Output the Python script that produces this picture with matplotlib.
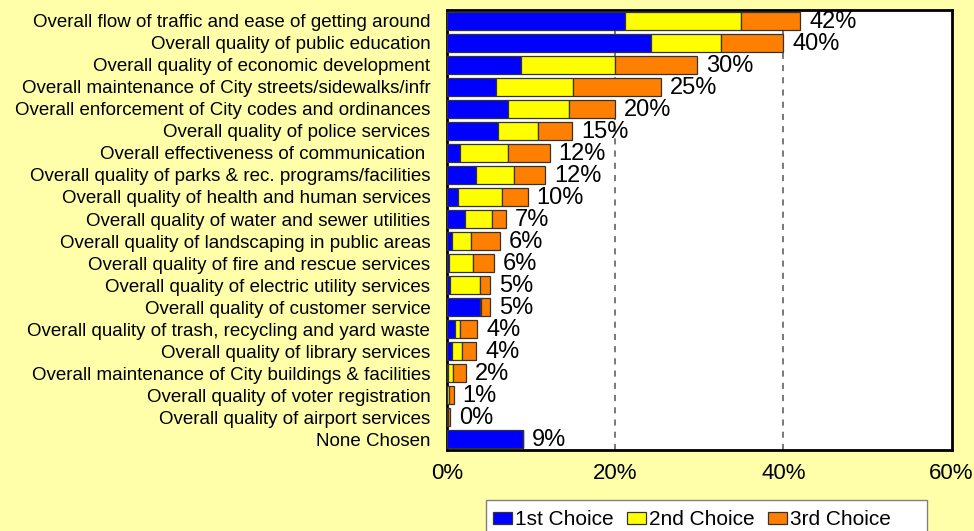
import matplotlib
matplotlib.use("Agg")
import matplotlib.pyplot as plt
from matplotlib.patches import Rectangle
import numpy as np

plt.rcParams['font.family'] = ['Liberation Sans', 'DejaVu Sans']

categories = [
    "Overall flow of traffic and ease of getting around",
    "Overall quality of public education",
    "Overall quality of economic development",
    "Overall maintenance of City streets/sidewalks/infr",
    "Overall enforcement of City codes and ordinances",
    "Overall quality of police services",
    "Overall effectiveness of communication ",
    "Overall quality of parks & rec. programs/facilities",
    "Overall quality of health and human services",
    "Overall quality of water and sewer utilities",
    "Overall quality of landscaping in public areas",
    "Overall quality of fire and rescue services",
    "Overall quality of electric utility services",
    "Overall quality of customer service",
    "Overall quality of trash, recycling and yard waste",
    "Overall quality of library services",
    "Overall maintenance of City buildings & facilities",
    "Overall quality of voter registration",
    "Overall quality of airport services",
    "None Chosen",
]
first = [21.2, 24.3, 8.8, 5.8, 7.3, 6.1, 1.6, 3.5, 1.35, 2.1, 0.6, 0.2, 0.4, 3.9, 0.9, 0.6, 0.1, 0.0, 0.05, 9.0]
second = [13.8, 8.3, 11.2, 9.2, 7.2, 4.7, 5.7, 4.5, 5.25, 3.2, 2.2, 2.9, 3.5, 0.1, 0.7, 1.15, 0.6, 0.3, 0.05, 0.0]
third = [7.0, 7.4, 9.7, 10.4, 5.5, 4.1, 4.9, 3.7, 3.0, 1.7, 3.5, 2.5, 1.2, 1.1, 2.0, 1.75, 1.6, 0.5, 0.25, 0.0]
totals = ["42%", "40%", "30%", "25%", "20%", "15%", "12%", "12%", "10%", "7%",
          "6%", "6%", "5%", "5%", "4%", "4%", "2%", "1%", "0%", "9%"]
series_names = ["1st Choice", "2nd Choice", "3rd Choice"]
colors = ["#0000FF", "#FFFF00", "#FF8000"]
xticks = [0, 20, 40, 60]

bg = "#FFFFAA"
fig = plt.figure(figsize=(9.74, 5.31), dpi=100, facecolor=bg)
ax = fig.add_axes([0.4589, 0.1525, 0.518, 0.8287])
ax.set_facecolor("white")

y = np.arange(len(categories))
left = np.zeros(len(categories))
for vals, name, c in zip([first, second, third], series_names, colors):
    ax.barh(y, vals, left=left, height=0.83, color=c, edgecolor="#333333",
            linewidth=0.9, label=name, zorder=3)
    left = left + np.array(vals)

for yi, tot, lab in zip(y, left, totals):
    ax.annotate(lab, (tot, yi), xytext=(6.5, -1), textcoords="offset points",
                va="center", ha="left", fontsize=17, zorder=4)

for gx in [20, 40]:
    ax.axvline(gx, color="#555555", linewidth=1.1, linestyle=(0, (4, 4)), zorder=1)

ax.set_xlim(0, 60)
ax.set_ylim(len(categories) - 0.5, -0.5)
ax.set_xticks(xticks)
ax.set_xticklabels([f"{t}%" for t in xticks], fontsize=16)
ax.set_yticks(y)
ax.set_yticklabels(categories, fontsize=13.5)
ax.tick_params(axis="both", length=0)
ax.tick_params(axis="y", pad=12)
ax.tick_params(axis="x", pad=9)
for s in ax.spines.values():
    s.set_color("black")
    s.set_linewidth(2)

# legend box (wider than the entries, like the original)
fig.patches.append(Rectangle((486 / 974, -0.05), (927 - 486) / 974, 0.05 + 31 / 531,
                             transform=fig.transFigure, facecolor="white",
                             edgecolor="#808080", linewidth=1, zorder=0))
leg = fig.legend(loc="upper left", bbox_to_anchor=(486 / 974, 1 - 503 / 531),
                 ncol=3, fontsize=15, frameon=False,
                 handlelength=0.9, handleheight=0.5, handletextpad=0.15,
                 columnspacing=0.65, borderpad=0.35, borderaxespad=0)

fig.savefig("out.png", dpi=100, facecolor=bg)
